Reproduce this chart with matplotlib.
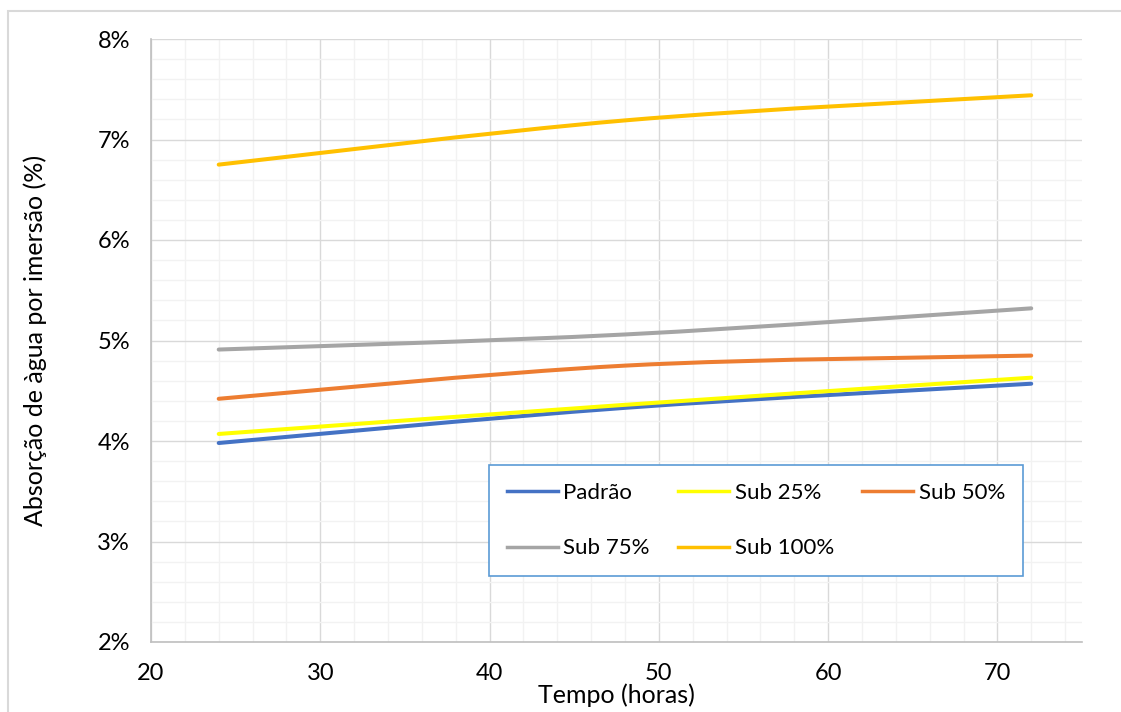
import matplotlib
matplotlib.use("Agg")
import matplotlib.pyplot as plt
from matplotlib.path import Path
from matplotlib.patches import PathPatch, Rectangle
from matplotlib.lines import Line2D
from matplotlib.ticker import MultipleLocator, PercentFormatter

plt.rcParams['font.family'] = ['Lato', 'DejaVu Sans']

# ensaio de absorção por imersão
horas = [24, 48, 72]
padrao = [3.98, 4.33, 4.57]
sub25 = [4.07, 4.36, 4.63]
sub50 = [4.42, 4.75, 4.85]
sub75 = [4.91, 5.06, 5.32]
sub100 = [6.75, 7.19, 7.44]

nomes = ["Padrão", "Sub 25%", "Sub 50%", "Sub 75%", "Sub 100%"]
series = [padrao, sub25, sub50, sub75, sub100]
cores = ["#4472C4", "#FFFF00", "#ED7D31", "#A5A5A5", "#FFC000"]


def curva_suave(xs, ys):
    # linha suavizada (bezier tipo catmull-rom) passando pelos pontos
    pts = list(zip(xs, ys))
    verts = [pts[0]]
    codes = [Path.MOVETO]
    for i in range(len(pts) - 1):
        p0 = pts[i - 1] if i > 0 else pts[i]
        p1 = pts[i]
        p2 = pts[i + 1]
        p3 = pts[i + 2] if i + 2 < len(pts) else pts[i + 1]
        c1 = (p1[0] + (p2[0] - p0[0]) / 6, p1[1] + (p2[1] - p0[1]) / 6)
        c2 = (p2[0] - (p3[0] - p1[0]) / 6, p2[1] - (p3[1] - p1[1]) / 6)
        verts += [c1, c2, p2]
        codes += [Path.CURVE4] * 3
    return Path(verts, codes)


W, H = 1121, 712
fig = plt.figure(figsize=(W / 100, H / 100), dpi=100)
ax = fig.add_axes([151 / W, 1 - 642 / H, 931 / W, 603 / H])

# moldura do gráfico
fig.patches.append(Rectangle((8 / W, -0.05), 1.1, 1 - 10.5 / H + 0.05,
                             transform=fig.transFigure, fill=False,
                             edgecolor="#D9D9D9", lw=1.5))

handles = []
for nome, vals, cor in zip(nomes, series, cores):
    ax.add_patch(PathPatch(curva_suave(horas, vals), fill=False,
                           edgecolor=cor, lw=2.9, capstyle="round", zorder=3))
    handles.append(Line2D([], [], color=cor, lw=2.5, label=nome))

ax.set_xlim(20, 75)
ax.set_ylim(2, 8)
ax.xaxis.set_major_locator(MultipleLocator(10))
ax.xaxis.set_minor_locator(MultipleLocator(2))
ax.yaxis.set_major_locator(MultipleLocator(1))
ax.yaxis.set_minor_locator(MultipleLocator(0.2))
ax.yaxis.set_major_formatter(PercentFormatter(xmax=100, decimals=0))

ax.grid(which="minor", color="#F2F2F2", lw=1.0, zorder=0)
ax.grid(which="major", color="#D9D9D9", lw=1.0, zorder=1)
ax.set_axisbelow(True)

for s in ["top", "right"]:
    ax.spines[s].set_visible(False)
for s in ["left", "bottom"]:
    ax.spines[s].set_color("#BFBFBF")
    ax.spines[s].set_linewidth(1.2)

ax.tick_params(which="both", length=0, pad=15, labelsize=17, labelcolor="black")

ax.set_xlabel("Tempo (horas)", fontsize=18)
ax.set_ylabel("Absorção de àgua por imersão (%)", fontsize=18)
ax.xaxis.set_label_coords(0.5, -0.068)
ax.yaxis.set_label_coords(-0.1115, 0.5)

# legenda preenchida por linhas: 3 colunas, 2 linhas
ordem = [0, 3, 1, 4, 2]
leg = ax.legend(handles=[handles[i] for i in ordem], ncol=3, loc="upper left",
                mode="expand", bbox_to_anchor=(0.363, 0.1095, 0.5736, 0.184),
                fontsize=16, frameon=True, fancybox=False, framealpha=1,
                edgecolor="#5B9BD5", handlelength=2.3, handletextpad=0.25,
                borderpad=0.8, labelspacing=1.6, borderaxespad=0)
leg.get_frame().set_linewidth(1.2)

fig.savefig("out.png", dpi=100)
